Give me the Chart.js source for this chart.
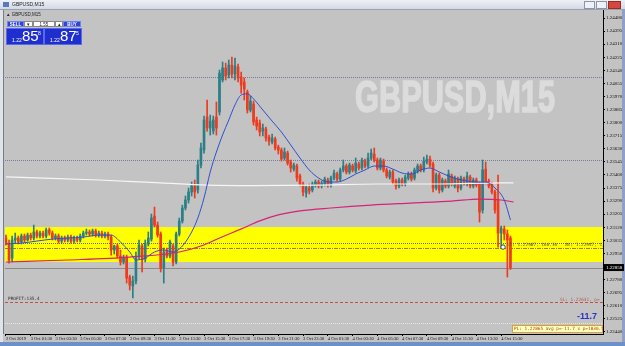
<!DOCTYPE html>
<html>
<head>
<meta charset="utf-8">
<script src="https://cdn.jsdelivr.net/npm/chart.js@4.4.1/dist/chart.umd.min.js"></script>
<style>
html, body { margin: 0; padding: 0; overflow: hidden; background: #c3c3c3; }
#wrap { position: relative; width: 625px; height: 346px; }
canvas { position: absolute; left: 0; top: 0; }
#cap { position: absolute; left: 0; top: 0; width: 625px; height: 9px; background: linear-gradient(#eef1f6, #d3d9e3); border-bottom: 1px solid #98a2b3; font: 5px 'Liberation Sans', sans-serif; color: #222; line-height: 9px; }
#cap .ico { position: absolute; left: 3px; top: 2px; width: 6px; height: 5px; background: #5b78b8; }
#cap .t { position: absolute; left: 12px; top: 0; }
#cap i { position: absolute; top: 1px; height: 6px; border: 1px solid #8b96a8; background: #eef1f5; }
#cap i.x { background: #d6473d; border-color: #9a2c25; }
#lbl { position: absolute; left: 6px; top: 12px; font: 4.5px 'Liberation Sans', sans-serif; color: #222; }
.b { position: absolute; top: 21px; height: 6px; font: bold 4.5px 'Liberation Sans', sans-serif; line-height: 6px; text-align: center; box-sizing: border-box; }
.sell, .buy { background: #2f45d6; color: #fff; border: 1px solid #6f82f0; }
.dd, .lot { background: #fff; color: #222; border: 1px solid #8a8a8a; font-weight: normal; }
.big { position: absolute; top: 28px; height: 17px; background: #1f2fcf; border: 1px solid #5a6ae6; box-sizing: border-box; color: #fff; font-family: 'Liberation Sans', sans-serif; }
.big small { position: absolute; left: 5px; top: 8px; font-size: 5px; }
.big b { position: absolute; left: 15px; top: -2px; font-size: 15px; font-weight: normal; }
.big sup { position: absolute; left: 31px; top: 1px; font-size: 5px; }
#wm { position: absolute; left: 355px; top: 71px; font: bold 45px 'Liberation Sans Narrow', sans-serif; color: #dcdcdc; -webkit-text-stroke: 1.6px #dcdcdc; white-space: nowrap; transform-origin: 0 0; }
</style>
</head>
<body>
<div id="wrap">
  <canvas id="c" width="625" height="346"></canvas>
  <div id="wm">GBPUSD,M15</div>
  <div id="cap"><span class="ico"></span><span class="t">GBPUSD,M15</span>
    <i style="left:584px;width:9px"></i><i style="left:596px;width:9px"></i><i class="x" style="left:608px;width:11px"></i></div>
  <div id="lbl">▲ GBPUSD,M15</div>
  <div class="b sell" style="left:7px;width:17px">SELL</div>
  <div class="b dd" style="left:24px;width:9px">▾</div>
  <div class="b lot" style="left:33px;width:22px">1.55</div>
  <div class="b dd" style="left:55px;width:8px">▴</div>
  <div class="b buy" style="left:63px;width:18px">BUY</div>
  <div class="big" style="left:6px;width:38px"><small>1.22</small><b>85</b><sup>8</sup></div>
  <div class="big" style="left:44px;width:38px"><small>1.22</small><b>87</b><sup>5</sup></div>
</div>
<script>
// GBPUSD M15 candles, one entry per bar (bar 0 = 2 Oct 23:30)
const opens = [1.23050,1.23017,1.22920,1.23037,1.23050,1.23024,1.23063,1.23037,1.23069,1.23050,
1.23089,1.23063,1.23082,1.23063,1.23102,1.23082,1.23050,1.23063,1.23030,1.23050,
1.23037,1.23056,1.23030,1.23050,1.23037,1.23063,1.23082,1.23089,1.23076,1.23095,
1.23069,1.23082,1.23063,1.23076,1.23056,1.22972,1.22998,1.22933,1.22894,1.22926,
1.22796,1.22738,1.22770,1.22926,1.22998,1.22913,1.23011,1.23043,1.23193,1.23134,
1.23076,1.22855,1.22965,1.22933,1.22998,1.22894,1.23076,1.23160,1.23245,1.23297,
1.23349,1.23388,1.23362,1.23524,1.23622,1.23836,1.23765,1.23745,1.23836,1.23869,
1.24077,1.24155,1.24109,1.24174,1.24116,1.24161,1.24096,1.24064,1.23999,1.23882,
1.23921,1.23817,1.23797,1.23745,1.23758,1.23706,1.23674,1.23693,1.23641,1.23622,
1.23570,1.23602,1.23544,1.23498,1.23518,1.23453,1.23401,1.23342,1.23375,1.23362,
1.23394,1.23414,1.23388,1.23401,1.23427,1.23394,1.23440,1.23466,1.23433,1.23492,
1.23518,1.23479,1.23518,1.23485,1.23531,1.23505,1.23550,1.23518,1.23570,1.23596,
1.23557,1.23505,1.23550,1.23492,1.23446,1.23479,1.23420,1.23388,1.23427,1.23401,
1.23440,1.23466,1.23440,1.23485,1.23518,1.23492,1.23544,1.23563,1.23531,1.23375,
1.23459,1.23362,1.23420,1.23388,1.23453,1.23388,1.23433,1.23375,1.23433,1.23401,
1.23446,1.23388,1.23427,1.23401,1.23232,1.23498,1.23420,1.23401,1.23349,1.23297,
1.23082,1.23108,1.23076,1.23050];
const highs = [1.23069,1.23037,1.23063,1.23082,1.23063,1.23076,1.23076,1.23082,1.23082,1.23134,
1.23102,1.23095,1.23095,1.23115,1.23115,1.23095,1.23076,1.23076,1.23063,1.23063,
1.23069,1.23069,1.23063,1.23063,1.23076,1.23095,1.23108,1.23102,1.23108,1.23108,
1.23095,1.23095,1.23089,1.23089,1.23069,1.23004,1.23011,1.22972,1.22939,1.22939,
1.22809,1.22803,1.22959,1.23037,1.23011,1.23037,1.23089,1.23206,1.23251,1.23154,
1.23089,1.22985,1.22985,1.23037,1.23011,1.23089,1.23180,1.23264,1.23323,1.23375,
1.23414,1.23427,1.23557,1.23667,1.23843,1.23947,1.23849,1.23843,1.23934,1.24142,
1.24194,1.24187,1.24207,1.24226,1.24220,1.24181,1.24129,1.24090,1.24012,1.23973,
1.23940,1.23836,1.23817,1.23791,1.23771,1.23719,1.23726,1.23706,1.23654,1.23635,
1.23635,1.23615,1.23557,1.23537,1.23531,1.23466,1.23414,1.23394,1.23401,1.23414,
1.23427,1.23427,1.23420,1.23446,1.23440,1.23453,1.23492,1.23479,1.23505,1.23557,
1.23531,1.23537,1.23531,1.23570,1.23544,1.23570,1.23563,1.23602,1.23628,1.23635,
1.23570,1.23570,1.23563,1.23505,1.23492,1.23492,1.23433,1.23440,1.23440,1.23459,
1.23479,1.23479,1.23505,1.23531,1.23531,1.23576,1.23589,1.23583,1.23544,1.23472,
1.23472,1.23440,1.23433,1.23492,1.23466,1.23453,1.23446,1.23453,1.23446,1.23479,
1.23459,1.23440,1.23440,1.23414,1.23557,1.23544,1.23433,1.23414,1.23362,1.23459,
1.23128,1.23128,1.23102,1.23063];
const lows = [1.23004,1.22887,1.22894,1.23017,1.23011,1.23011,1.23024,1.23030,1.23037,1.23037,
1.23050,1.23050,1.23050,1.23050,1.23069,1.23037,1.23037,1.23017,1.23017,1.23024,
1.23024,1.23017,1.23017,1.23024,1.23024,1.23050,1.23069,1.23063,1.23063,1.23056,
1.23056,1.23050,1.23050,1.23037,1.22939,1.22946,1.22920,1.22874,1.22881,1.22757,
1.22712,1.22660,1.22751,1.22913,1.22829,1.22894,1.22998,1.23030,1.23121,1.23056,
1.22829,1.22757,1.22920,1.22920,1.22868,1.22881,1.23063,1.23147,1.23232,1.23277,
1.23323,1.23310,1.23342,1.23505,1.23602,1.23745,1.23719,1.23726,1.23719,1.23849,
1.24064,1.24077,1.24090,1.24090,1.24077,1.24064,1.23992,1.23947,1.23862,1.23869,
1.23784,1.23752,1.23713,1.23713,1.23680,1.23654,1.23661,1.23622,1.23596,1.23550,
1.23557,1.23524,1.23479,1.23485,1.23420,1.23388,1.23323,1.23316,1.23336,1.23349,
1.23381,1.23375,1.23375,1.23388,1.23381,1.23381,1.23427,1.23420,1.23420,1.23479,
1.23466,1.23466,1.23479,1.23472,1.23492,1.23492,1.23505,1.23505,1.23557,1.23544,
1.23492,1.23492,1.23479,1.23440,1.23433,1.23401,1.23368,1.23375,1.23388,1.23388,
1.23427,1.23420,1.23427,1.23472,1.23479,1.23479,1.23531,1.23511,1.23349,1.23362,
1.23342,1.23349,1.23375,1.23375,1.23388,1.23375,1.23349,1.23362,1.23394,1.23388,
1.23375,1.23375,1.23381,1.23154,1.23212,1.23401,1.23375,1.23336,1.23212,1.22991,
1.22991,1.23037,1.22796,1.22845];
const closes = [1.23017,1.22907,1.23037,1.23050,1.23024,1.23063,1.23037,1.23069,1.23050,1.23089,
1.23063,1.23082,1.23063,1.23102,1.23082,1.23050,1.23063,1.23030,1.23050,1.23037,
1.23056,1.23030,1.23050,1.23037,1.23063,1.23082,1.23089,1.23076,1.23095,1.23069,
1.23082,1.23063,1.23076,1.23056,1.22972,1.22998,1.22933,1.22894,1.22926,1.22790,
1.22744,1.22770,1.22926,1.23004,1.22907,1.23017,1.23050,1.23180,1.23134,1.23069,
1.22855,1.22959,1.22933,1.23024,1.22894,1.23076,1.23160,1.23245,1.23297,1.23349,
1.23388,1.23349,1.23524,1.23635,1.23817,1.23765,1.23810,1.23817,1.23765,1.24122,
1.24155,1.24103,1.24174,1.24116,1.24168,1.24090,1.24044,1.24018,1.23882,1.23940,
1.23804,1.23778,1.23739,1.23765,1.23700,1.23680,1.23700,1.23635,1.23622,1.23563,
1.23609,1.23537,1.23505,1.23524,1.23440,1.23401,1.23349,1.23381,1.23355,1.23401,
1.23414,1.23388,1.23407,1.23433,1.23394,1.23440,1.23472,1.23433,1.23492,1.23518,
1.23479,1.23524,1.23492,1.23537,1.23505,1.23557,1.23518,1.23570,1.23602,1.23557,
1.23505,1.23557,1.23492,1.23453,1.23479,1.23414,1.23388,1.23427,1.23401,1.23446,
1.23466,1.23433,1.23492,1.23518,1.23492,1.23550,1.23563,1.23524,1.23375,1.23459,
1.23362,1.23427,1.23388,1.23466,1.23401,1.23440,1.23375,1.23440,1.23407,1.23453,
1.23388,1.23427,1.23394,1.23219,1.23492,1.23414,1.23388,1.23349,1.23232,1.23082,
1.23115,1.23076,1.23037,1.22858];

// moving averages, read at selected bars
const fastMaBars = [0,5,10,15,20,25,30,34,37,40,42,45,48,51,54,57,60,62,64,66,68,70,72,74,76,78,80,83,86,89,92,95,98,101,104,107,110,113,116,119,122,125,128,131,134,137,140,143,146,149,152,155,158,161,163];
const fastMa = [1.23011,1.23017,1.23030,1.23043,1.23050,1.23056,1.23069,1.23069,1.23024,1.22959,1.22907,1.22920,1.22959,1.22972,1.22959,1.22998,1.23089,1.23180,1.23310,1.23479,1.23609,1.23720,1.23817,1.23915,1.23980,1.23987,1.23954,1.23882,1.23810,1.23739,1.23655,1.23570,1.23492,1.23440,1.23414,1.23414,1.23433,1.23466,1.23492,1.23518,1.23518,1.23498,1.23472,1.23466,1.23492,1.23505,1.23479,1.23453,1.23433,1.23420,1.23414,1.23414,1.23375,1.23297,1.23167];
const slowMaBars = [0,30,50,65,80,100,120,140,160,164];
const slowMa = [1.23447,1.23427,1.23408,1.23394,1.23391,1.23394,1.23401,1.23401,1.23408,1.23408];
const midMaBars = [0,20,40,56,63,69,76,82,88,95,105,118,131,144,153,160,164];
const midMa = [1.22894,1.22907,1.22926,1.22959,1.22998,1.23050,1.23109,1.23161,1.23200,1.23226,1.23245,1.23264,1.23277,1.23290,1.23303,1.23297,1.23284];

const timeLabels = ['2 Oct 2019','3 Oct 01:30','3 Oct 03:30','3 Oct 05:30','3 Oct 07:30','3 Oct 09:30','3 Oct 11:30','3 Oct 13:30','3 Oct 15:30','3 Oct 17:30','3 Oct 19:30','3 Oct 21:30','3 Oct 23:30','4 Oct 01:30','4 Oct 03:30','4 Oct 05:30','4 Oct 07:30','4 Oct 09:30','4 Oct 11:30','4 Oct 13:30','4 Oct 15:30'];
const priceTicks = [1.24480,1.24395,1.24310,1.24225,1.24140,1.24055,1.23970,1.23885,1.23800,1.23715,1.23630,1.23545,1.23460,1.23375,1.23290,1.23205,1.23120,1.23035,1.22950,1.22865,1.22780,1.22695,1.22610,1.22525,1.22440];

// levels on the chart
const dottedLevels = [1.24097, 1.23557];
const zone = [1.23121, 1.22894];
const targetLevel = 1.23018;
const avgLevel = 1.22985;
const bid = 1.22858;
const stopLoss = 1.22631;
const lowLevel = 1.22498;
const entryMark = [{x: 160.6, y: 1.22991}];

const BULL = '#2b7f86', BEAR = '#ee3a1e';
const barIdx = opens.map((_, i) => i);
const candleColors = barIdx.map(i => closes[i] < opens[i] ? BEAR : BULL);

function hline(ctx, a, y, color, dash, w) {
  ctx.save();
  ctx.strokeStyle = color;
  ctx.lineWidth = w || 1;
  ctx.setLineDash(dash || []);
  ctx.beginPath();
  ctx.moveTo(a.left, Math.round(y) + 0.5);
  ctx.lineTo(a.right, Math.round(y) + 0.5);
  ctx.stroke();
  ctx.restore();
}

const decor = {
  id: 'decor',
  beforeDraw(chart) {
    const {ctx, width, height} = chart;
    ctx.save();
    ctx.fillStyle = '#c3c3c3';
    ctx.fillRect(0, 0, width, height);
    ctx.fillStyle = '#dfe4ec';
    ctx.fillRect(0, 0, 3, height);
    ctx.fillStyle = '#8ea0c4';
    ctx.fillRect(622, 0, 3, height);
    ctx.fillStyle = '#6f8fc9';
    ctx.fillRect(0, 342, width, 4);
    ctx.restore();
  },
  beforeDatasetsDraw(chart) {
    const {ctx, chartArea: a, scales: {y}} = chart;
    const py = v => y.getPixelForValue(v);
    ctx.save();
    ctx.fillStyle = '#ffff00';
    ctx.fillRect(a.left, py(zone[0]), a.right - a.left, py(zone[1]) - py(zone[0]));
    ctx.restore();
    dottedLevels.forEach(v => hline(ctx, a, py(v), '#7b7b9c', [1, 1]));
    hline(ctx, a, py(targetLevel), '#6a6a50', [1, 1]);
    hline(ctx, a, py(avgLevel), '#a07a30', [4, 1, 1, 1]);
    hline(ctx, a, py(bid), '#8a8a8a');
    hline(ctx, a, py(stopLoss), '#c0504a', [3, 2]);
    hline(ctx, a, py(lowLevel), '#e6e6e6', [1, 1]);
    // left border of the chart window
    ctx.save();
    ctx.fillStyle = '#7d7d7d';
    ctx.fillRect(3, a.top, 1, a.bottom - a.top);
    ctx.restore();
  },
  afterDatasetsDraw(chart) {
    const {ctx, chartArea: a, scales: {y}} = chart;
    const py = v => y.getPixelForValue(v);
    ctx.save();
    ctx.beginPath();
    ctx.rect(a.left, a.top, a.right - a.left, a.bottom - a.top);
    ctx.clip();
    ctx.textBaseline = 'middle';
    ctx.font = "4.4px 'DejaVu Sans Mono'";
    ctx.fillStyle = '#5a5a40';
    ctx.fillText('ST: 1.22987, 160.30   AV: 1.22947, 1/', a.right - 96, py(targetLevel) + 2);
    ctx.fillStyle = '#c0504a';
    ctx.fillText('SL: 1.22631, p=', a.right - 43, py(stopLoss) - 3);
    ctx.fillStyle = '#303030';
    ctx.fillText('PROFIT:135.4', a.left + 3, py(stopLoss) - 4);
    ctx.fillStyle = '#2434c8';
    ctx.font = "bold 9px 'Liberation Sans'";
    ctx.fillText('-11.7', a.right - 26, py(lowLevel) - 6);
    // P/L box
    ctx.fillStyle = '#ffffb8';
    ctx.fillRect(a.right - 91, a.bottom - 9, 91, 8);
    ctx.strokeStyle = '#d9a040';
    ctx.strokeRect(a.right - 90.5, a.bottom - 8.5, 90, 7);
    ctx.fillStyle = '#b04020';
    ctx.font = "4.4px 'DejaVu Sans Mono'";
    ctx.fillText('PL: 1.22865 avg p=-11.7 x p=1830.5', a.right - 89, a.bottom - 5);
    ctx.restore();
  },
  afterDraw(chart) {
    const {ctx, chartArea: a, scales: {y}} = chart;
    const yy = y.getPixelForValue(bid);
    ctx.save();
    ctx.fillStyle = '#000';
    ctx.fillRect(a.right + 1, yy - 3.5, 20, 7);
    ctx.fillStyle = '#fff';
    ctx.font = "5px 'Liberation Sans Narrow'";
    ctx.textBaseline = 'middle';
    ctx.fillText(bid.toFixed(5), a.right + 3, yy);
    ctx.restore();
  }
};

const lineDs = (bars, vals, color, width, order) => ({
  type: 'line',
  data: bars.map((b, k) => ({x: b, y: vals[k]})),
  borderColor: color,
  borderWidth: width,
  pointRadius: 0,
  cubicInterpolationMode: 'monotone',
  order: order
});

new Chart(document.getElementById('c'), {
  type: 'bar',
  data: {
    datasets: [
      {
        type: 'line',
        data: entryMark,
        showLine: false,
        pointRadius: 2.2,
        pointBackgroundColor: '#ffffff',
        pointBorderColor: '#1f4aa0',
        pointBorderWidth: 1,
        order: 0
      },
      lineDs(fastMaBars, fastMa, '#2f4fd0', 1, 1),
      lineDs(midMaBars, midMa, '#d6237a', 1.2, 2),
      lineDs(slowMaBars, slowMa, '#f6f6f6', 1.2, 3),
      {
        data: barIdx.map(i => ({x: i, y: [Math.min(opens[i], closes[i]), Math.max(opens[i], closes[i])]})),
        backgroundColor: candleColors,
        barThickness: 2,
        minBarLength: 1,
        grouped: false,
        order: 4
      },
      {
        data: barIdx.map(i => ({x: i, y: [lows[i], highs[i]]})),
        backgroundColor: candleColors,
        barThickness: 1,
        grouped: false,
        order: 5
      }
    ]
  },
  options: {
    responsive: false,
    animation: false,
    devicePixelRatio: 1,
    layout: {padding: {left: 4, top: 10, right: 0, bottom: 4}},
    plugins: {legend: {display: false}, tooltip: {enabled: false}},
    scales: {
      x: {
        type: 'linear',
        min: -0.3,
        max: 192.9,
        offset: false,
        grid: {drawOnChartArea: false, tickLength: 2, color: '#000', offset: false},
        border: {color: '#000'},
        afterBuildTicks: s => { s.ticks = timeLabels.map((t, k) => ({value: k * 8})); },
        afterFit: s => { s.height = 8; },
        ticks: {
          align: 'start', autoSkip: false, maxRotation: 0, minRotation: 0, padding: 0,
          color: '#111',
          font: {family: 'Liberation Sans Narrow', size: 4.5},
          callback: (v, idx) => timeLabels[idx]
        }
      },
      y: {
        type: 'linear',
        position: 'right',
        min: 1.22426,
        max: 1.24532,
        grid: {drawOnChartArea: false, tickLength: 2, color: '#000'},
        border: {color: '#000'},
        afterBuildTicks: s => { s.ticks = priceTicks.map(v => ({value: v})); },
        afterFit: s => { s.width = 22; },
        ticks: {
          autoSkip: false, padding: 1, color: '#111',
          font: {family: 'Liberation Sans Narrow', size: 5},
          callback: v => Number(v).toFixed(5)
        }
      }
    }
  },
  plugins: [decor]
});

const wm = document.getElementById('wm');
wm.style.transform = 'scaleX(' + (200 / wm.getBoundingClientRect().width) + ')';
</script>
</body>
</html>
